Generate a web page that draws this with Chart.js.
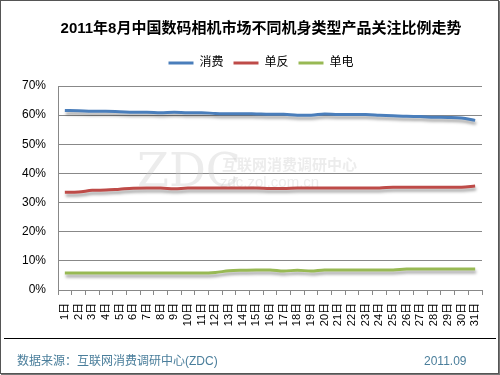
<!DOCTYPE html>
<html>
<head>
<meta charset="utf-8">
<script src="https://cdn.jsdelivr.net/npm/chart.js@4/dist/chart.umd.min.js"></script>
<style>
  html, body { margin: 0; padding: 0; background: #fff; }
  #wrap { width: 500px; height: 375px; position: relative; }
</style>
</head>
<body>
<div id="wrap"><canvas id="c" width="500" height="375"></canvas></div>
<script>
const titleText = '2011年8月中国数码相机市场不同机身类型产品关注比例走势';
const days = ['1日','2日','3日','4日','5日','6日','7日','8日','9日','10日','11日','12日','13日','14日','15日','16日','17日','18日','19日','20日','21日','22日','23日','24日','25日','26日','27日','28日','29日','30日','31日'];
const seriesNames = ['消费', '单反', '单电'];
const consumer = [61.6,61.5,61.3,61.3,61.2,61.0,61.0,60.8,61.0,60.8,60.8,60.6,60.5,60.5,60.4,60.3,60.3,60.0,60.0,60.4,60.2,60.2,60.2,60.0,59.8,59.6,59.5,59.3,59.2,59.0,58.2];
const dslr = [33.5,33.6,34.2,34.3,34.6,34.9,35.0,35.0,34.7,35.0,35.0,35.0,35.0,35.0,35.0,34.8,34.8,35.0,35.0,35.0,35.0,35.0,35.0,35.0,35.3,35.3,35.3,35.3,35.3,35.3,35.7];
const evil = [5.8,5.8,5.8,5.8,5.8,5.8,5.8,5.8,5.8,5.8,5.8,6.0,6.6,6.8,6.9,6.9,6.5,6.8,6.5,6.9,6.9,6.9,6.9,6.9,6.9,7.2,7.2,7.2,7.2,7.2,7.2];
const yTicks = ['0%','10%','20%','30%','40%','50%','60%','70%'];
const sourceText = '数据来源：互联网消费调研中心(ZDC)';
const dateText = '2011.09';

const FONT = '"Liberation Sans", Arial, "Noto Sans CJK SC", sans-serif';
const colors = ['#4A7EBB', '#BE4B48', '#98B954'];

const decor = {
  id: 'decor',
  beforeDraw(chart) {
    const ctx = chart.ctx;
    ctx.save();
    ctx.fillStyle = '#fff';
    ctx.fillRect(0, 0, 500, 375);
    ctx.restore();
  },
  beforeDatasetsDraw(chart) {
    const ctx = chart.ctx;
    ctx.save();
    ctx.fillStyle = 'rgba(200,200,200,0.35)';
    ctx.font = '46px "DejaVu Serif", serif';
    ctx.textBaseline = 'middle';
    ctx.fillText('ZDC', 137, 174);
    ctx.font = 'bold 15px "Noto Sans CJK SC", sans-serif';
    ctx.fillText('互联网消费调研中心', 222, 164);
    ctx.font = '15px "Liberation Sans", sans-serif';
    ctx.fillText('zdc.zol.com.cn', 220, 183);
    ctx.restore();
  },
  beforeDatasetDraw(chart) {
    const ctx = chart.ctx;
    ctx.save();
    ctx.shadowColor = 'rgba(0,0,0,0.35)';
    ctx.shadowOffsetX = 1;
    ctx.shadowOffsetY = 3;
    ctx.shadowBlur = 3;
  },
  afterDatasetDraw(chart) {
    chart.ctx.restore();
  },
  afterDraw(chart) {
    const ctx = chart.ctx;
    ctx.save();
    ctx.strokeStyle = '#000';
    ctx.lineWidth = 1;
    ctx.beginPath();
    ctx.moveTo(4, 338.5);
    ctx.lineTo(496, 338.5);
    ctx.stroke();
    ctx.fillStyle = '#4A7E9B';
    ctx.font = '12px "Liberation Sans", "Noto Sans CJK SC", sans-serif';
    ctx.textBaseline = 'middle';
    ctx.textAlign = 'left';
    ctx.fillText(sourceText, 17, 362);
    ctx.fillText(dateText, 424, 362);
    ctx.strokeStyle = '#555';
    ctx.lineWidth = 1;
    ctx.strokeRect(0.5, 0.5, 498, 373);
    ctx.strokeStyle = '#777';
    ctx.beginPath();
    ctx.moveTo(499.5, 1); ctx.lineTo(499.5, 375);
    ctx.moveTo(1, 374.5); ctx.lineTo(500, 374.5);
    ctx.stroke();
    ctx.restore();
  }
};

new Chart(document.getElementById('c'), {
  type: 'line',
  data: {
    labels: days,
    datasets: [
      { label: seriesNames[0], data: consumer, borderColor: colors[0], backgroundColor: colors[0], borderWidth: 3 },
      { label: seriesNames[1], data: dslr, borderColor: colors[1], backgroundColor: colors[1], borderWidth: 3 },
      { label: seriesNames[2], data: evil, borderColor: colors[2], backgroundColor: colors[2], borderWidth: 3 }
    ]
  },
  options: {
    responsive: false,
    animation: false,
    devicePixelRatio: 1,
    layout: { padding: { left: 40, right: 18, top: 0, bottom: 40 } },
    elements: {
      line: { borderWidth: 3, tension: 0.35, cubicInterpolationMode: 'monotone' },
      point: { radius: 0, hoverRadius: 0 }
    },
    plugins: {
      title: {
        display: true,
        text: titleText,
        color: '#000',
        font: { family: FONT, size: 15, weight: 'bold' },
        padding: { top: 20, bottom: 9 }
      },
      subtitle: {
        display: true,
        text: ' ',
        weight: 500,
        color: 'rgba(0,0,0,0)',
        font: { size: 1, lineHeight: 1 },
        padding: { top: 0, bottom: 6 }
      },
      legend: {
        display: true,
        position: 'top',
        labels: {
          usePointStyle: true,
          pointStyle: 'line',
          pointStyleWidth: 25,
          color: '#000',
          font: { family: FONT, size: 12 },
          padding: 10
        }
      },
      tooltip: { enabled: false }
    },
    scales: {
      x: {
        offset: true,
        afterFit(scale) { scale.height = 45; },
        grid: {
          display: true,
          offset: true,
          drawOnChartArea: false,
          drawTicks: true,
          tickLength: 5,
          color: '#888'
        },
        border: { display: true, color: '#888', width: 1 },
        ticks: {
          autoSkip: false,
          minRotation: 90,
          maxRotation: 90,
          padding: 8,
          color: '#000',
          font: { family: FONT, size: 11 }
        }
      },
      y: {
        min: 0,
        max: 70,
        afterFit(scale) {
          scale.width = 18;
          scale._computeLabelArea = () => null;
        },
        grid: { color: '#888', drawTicks: false, lineWidth: 1 },
        border: { display: true, color: '#888', width: 1 },
        ticks: {
          stepSize: 10,
          padding: 12,
          color: '#000',
          font: { family: FONT, size: 12 },
          callback: (v) => yTicks[v / 10]
        }
      }
    }
  },
  plugins: [decor]
});
</script>
</body>
</html>
